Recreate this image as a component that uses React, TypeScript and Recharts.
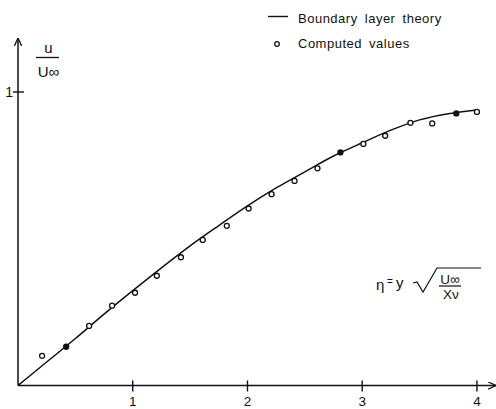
import { ComposedChart, Line, Scatter, XAxis, YAxis } from "recharts";

// boundary layer theory curve
const theoryEta = [0, 0.25, 0.5, 0.75, 1, 1.25, 1.5, 1.75, 2, 2.25, 2.5, 2.75, 3, 3.25, 3.5, 3.75, 4];
const theoryU = [0, 0.08, 0.16, 0.243, 0.323, 0.401, 0.476, 0.545, 0.612, 0.673, 0.728, 0.782, 0.827, 0.87, 0.905, 0.926, 0.939];

// computed values (circles); solid = drawn filled where they sit on the curve
const computedEta = [0.21, 0.42, 0.62, 0.82, 1.02, 1.21, 1.42, 1.61, 1.82, 2.01, 2.21, 2.41, 2.61, 2.81, 3.01, 3.2, 3.42, 3.61, 3.82, 4.0];
const computedU = [0.101, 0.132, 0.203, 0.272, 0.316, 0.374, 0.437, 0.496, 0.544, 0.603, 0.652, 0.697, 0.74, 0.794, 0.823, 0.851, 0.895, 0.893, 0.927, 0.932];
const computedSolid = [false, true, false, false, false, false, false, false, false, false, false, false, false, true, false, false, false, false, true, false];

const xTicks = [1, 2, 3, 4];
const yTicks = [1];

const INK = "#111";
const FONT = "'Liberation Sans', Arial, sans-serif";

const theory = theoryEta.map((eta, i) => ({ eta, u: theoryU[i] }));
const computed = computedEta.map((eta, i) => ({ eta, u: computedU[i], solid: computedSolid[i] }));

function XTick(props: any) {
  const { x, y, payload } = props;
  return (
    <g>
      <line x1={x} x2={x} y1={y - 5} y2={y + 6} stroke={INK} strokeWidth={1.4} />
      <text x={x} y={y + 20.5} textAnchor="middle" fontSize={13.5} fontFamily={FONT} fill={INK}>
        {payload.value}
      </text>
    </g>
  );
}

function YTick(props: any) {
  const { x, y, payload } = props;
  return (
    <g>
      <line x1={x - 5} x2={x + 6} y1={y} y2={y} stroke={INK} strokeWidth={1.4} />
      <text x={x - 5} y={y + 5} textAnchor="end" fontSize={14} fontFamily={FONT} fill={INK}>
        {payload.value}
      </text>
    </g>
  );
}

function Dot(props: any) {
  const { cx, cy, payload } = props;
  return (
    <circle cx={cx} cy={cy} r={2.5} fill={payload.solid ? INK : "#fff"} stroke={INK} strokeWidth={1.3} />
  );
}

export default function App() {
  return (
    <div style={{ position: "absolute", left: 0, top: 0, width: 496, height: 409, background: "#fff" }}>
      <svg width={0} height={0} style={{ position: "absolute" }}>
        <defs>
          <marker
            id="arrow"
            viewBox="0 0 10 10"
            refX={10}
            refY={5}
            markerWidth={8}
            markerHeight={8}
            markerUnits="userSpaceOnUse"
            orient="auto-start-reverse"
          >
            <path d="M0,0.5 L10,5 L0,9.5" fill="none" stroke={INK} strokeWidth={1.6} />
          </marker>
        </defs>
      </svg>
      <ComposedChart
        width={496}
        height={409}
        data={theory}
        margin={{ top: 38, right: 0, bottom: 0, left: 17 }}
      >
        <XAxis
          dataKey="eta"
          type="number"
          domain={[0, 4.166]}
          allowDataOverflow
          ticks={xTicks}
          height={23.5}
          tickSize={0}
          tickMargin={0}
          tickLine={false}
          tick={<XTick />}
          axisLine={{ stroke: INK, strokeWidth: 1.5, markerEnd: "url(#arrow)" }}
        />
        <YAxis
          type="number"
          domain={[0, 1.184]}
          allowDataOverflow
          ticks={yTicks}
          width={1}
          tickSize={0}
          tickMargin={0}
          tickLine={false}
          tick={<YTick />}
          axisLine={{ stroke: INK, strokeWidth: 1.5, markerStart: "url(#arrow)" }}
        />
        <Line
          type="monotone"
          dataKey="u"
          stroke={INK}
          strokeWidth={1.5}
          dot={false}
          isAnimationActive={false}
        />
        <Scatter data={computed} dataKey="u" shape={<Dot />} isAnimationActive={false} />
      </ComposedChart>
      <svg
        width={496}
        height={409}
        style={{ position: "absolute", left: 0, top: 0, pointerEvents: "none" }}
        fontFamily={FONT}
        fill={INK}
      >
        {/* y axis label u / U∞ */}
        <text x={48.5} y={53} textAnchor="middle" fontSize={15}>u</text>
        <line x1={36} x2={59} y1={57.5} y2={57.5} stroke={INK} strokeWidth={1.3} />
        <text x={48.5} y={77} textAnchor="middle" fontSize={15}>U∞</text>

        {/* legend */}
        <line x1={268} x2={288} y1={16.5} y2={16.5} stroke={INK} strokeWidth={1.4} />
        <text x={298} y={22.7} fontSize={13} letterSpacing={0.5} wordSpacing={3}>Boundary layer theory</text>
        <circle cx={277} cy={44} r={2.3} fill="#fff" stroke={INK} strokeWidth={1.3} />
        <text x={298} y={48.3} fontSize={13} letterSpacing={0.5} wordSpacing={3}>Computed values</text>

        {/* similarity variable */}
        <text x={376} y={290} fontSize={15}>η</text>
        <text x={387} y={285} fontSize={10}>=</text>
        <text x={396} y={288} fontSize={15}>y</text>
        <polyline
          points="413,283 417,282 423,292 437,268 481,268"
          fill="none"
          stroke={INK}
          strokeWidth={1.2}
        />
        <text x={450} y={283.5} textAnchor="middle" fontSize={13.5}>U∞</text>
        <line x1={439} x2={461} y1={286} y2={286} stroke={INK} strokeWidth={1.2} />
        <text x={451} y={298.5} textAnchor="middle" fontSize={13.5}>Xν</text>
      </svg>
    </div>
  );
}
